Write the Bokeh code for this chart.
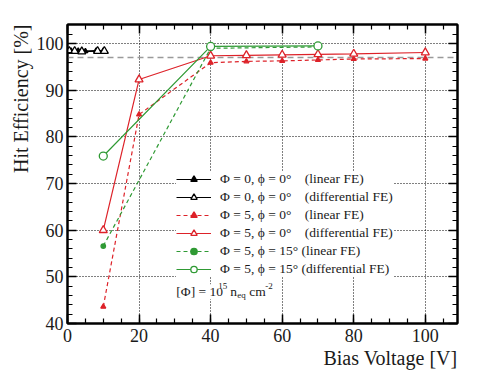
from bokeh.plotting import figure
from bokeh.models import (LinearAxis, SingleIntervalTicker, Span, Legend, LegendItem,
                          Label, Range1d, Title)
from bokeh.embed import file_html
from bokeh.resources import INLINE

# ---------------- data ----------------
phi0_lin_x = [1, 3, 5, 8, 10]
phi0_lin_y = [98.5, 98.5, 98.4, 98.5, 98.5]
phi0_diff_x = [0.5, 2, 4, 8.4, 10.3]
phi0_diff_y = [98.4, 98.4, 98.3, 98.4, 98.4]

red_lin_x = [10, 20, 40, 50, 60, 70, 80, 100]
red_lin_y = [43.6, 84.8, 95.9, 96.2, 96.3, 96.5, 96.7, 96.8]
red_diff_x = [10, 20, 40, 50, 60, 70, 80, 100]
red_diff_y = [60.0, 92.3, 97.4, 97.5, 97.6, 97.7, 97.8, 98.1]

green_lin_x = [10, 40, 70]
green_lin_y = [56.6, 99.0, 99.3]
green_diff_x = [10, 40, 70]
green_diff_y = [75.9, 99.4, 99.5]

reference_eff = 97.0

x_ticks = [0, 20, 40, 60, 80, 100]
y_ticks = [40, 50, 60, 70, 80, 90, 100]
x_min, x_max = 0, 109
y_min, y_max = 40, 104.1

x_title = "Bias Voltage [V]"
y_title = "Hit Efficiency [%]"

labels = [
    "\u03a6 = 0, \u03d5 = 0\u00b0\u2007  (linear FE)",
    "\u03a6 = 0, \u03d5 = 0\u00b0\u2007  (differential FE)",
    "\u03a6 = 5, \u03d5 = 0\u00b0\u2007  (linear FE)",
    "\u03a6 = 5, \u03d5 = 0\u00b0\u2007  (differential FE)",
    "\u03a6 = 5, \u03d5 = 15\u00b0 (linear FE)",
    "\u03a6 = 5, \u03d5 = 15\u00b0 (differential FE)",
]

FONT = "Liberation Serif"
RED = "#dd2229"
GREEN = "#2f9a34"
BLACK = "#000000"
TXT = "#1a1a1a"

p = figure(width=482, height=378, output_backend="svg", toolbar_location=None,
           x_range=Range1d(x_min, x_max), y_range=Range1d(y_min, y_max),
           min_border_left=67, min_border_right=25, min_border_top=24, min_border_bottom=55)
p.outline_line_color = "black"
p.outline_line_width = 2
p.background_fill_color = "white"
p.border_fill_color = "white"

# axes styling
for ax, interval, nminor in ((p.xaxis[0], 20, 4), (p.yaxis[0], 10, 5)):
    ax.ticker = SingleIntervalTicker(interval=interval, num_minor_ticks=nminor)
    ax.major_tick_in = 9
    ax.major_tick_out = 0
    ax.minor_tick_in = 5
    ax.minor_tick_out = 0
    ax.major_tick_line_width = 1.5
    ax.minor_tick_line_width = 1.2
    ax.axis_line_width = 2
    ax.major_label_text_font = FONT
    ax.major_label_text_font_size = "18px"
    ax.major_label_text_color = TXT
p.xaxis[0].major_label_standoff = 5
p.yaxis[0].major_label_standoff = 4

# mirrored axes (ticks only, no labels)
top = LinearAxis(ticker=SingleIntervalTicker(interval=20, num_minor_ticks=4),
                 major_label_overrides={t: "" for t in x_ticks},
                 major_tick_in=9, major_tick_out=0,
                 minor_tick_in=5, minor_tick_out=0, axis_line_width=2,
                 major_tick_line_width=1.5, minor_tick_line_width=1.2,
                 major_label_standoff=0)
right = LinearAxis(ticker=SingleIntervalTicker(interval=10, num_minor_ticks=5),
                   major_label_overrides={t: "" for t in y_ticks},
                   major_tick_in=9, major_tick_out=0,
                   minor_tick_in=5, minor_tick_out=0, axis_line_width=2,
                   major_tick_line_width=1.5, minor_tick_line_width=1.2,
                   major_label_standoff=0)
p.add_layout(top, "above")
p.add_layout(right, "right")

# axis titles, aligned to the end of each axis like the original
p.add_layout(Title(text=x_title, align="right", text_font=FONT, text_font_size="20px",
                   text_font_style="normal", text_color=TXT, offset=0, standoff=0), "below")
p.add_layout(Title(text=y_title, align="right", text_font=FONT, text_font_size="20px",
                   text_font_style="normal", text_color=TXT, offset=0, standoff=4), "left")

# grid
for g in (p.xgrid[0], p.ygrid[0]):
    g.grid_line_color = "black"
    g.grid_line_dash = "1 2"
    g.grid_line_width = 1
p.xgrid[0].ticker = p.xaxis[0].ticker
p.ygrid[0].ticker = p.yaxis[0].ticker

# reference line
p.add_layout(Span(location=reference_eff, dimension="width", line_color="#9a9a9a",
                  line_dash="6 4", line_width=1.5, level="underlay"))

LW = 1.2
items = []

def series(x, y, color, dash, marker, size, filled, label):
    l = p.line(x, y, line_color=color, line_width=LW, line_dash=dash)
    s = p.scatter(x, y, marker=marker, size=size, line_color=color, line_width=1.3,
                  fill_color=color if filled else "white")
    items.append(LegendItem(label=label, renderers=[l, s]))

series(phi0_lin_x, phi0_lin_y, BLACK, "solid", "triangle", 5, True, labels[0])
series(phi0_diff_x, phi0_diff_y, BLACK, "solid", "triangle", 8, False, labels[1])
series(red_lin_x, red_lin_y, RED, "4 3", "triangle", 5, True, labels[2])
series(red_diff_x, red_diff_y, RED, "solid", "triangle", 8, False, labels[3])
series(green_lin_x, green_lin_y, GREEN, "4 3", "circle", 4.5, True, labels[4])
series(green_diff_x, green_diff_y, GREEN, "solid", "circle", 8, False, labels[5])

legend = Legend(items=items, location=(109, 46), background_fill_color="white",
                background_fill_alpha=1.0, border_line_color=None,
                label_text_font=FONT, label_text_font_size="13.5px",
                label_text_color=TXT,
                glyph_width=35, glyph_height=16, label_height=16, spacing=2,
                label_standoff=9, padding=7, margin=0)
p.add_layout(legend, "center")

# fluence unit note: [Φ] = 10^15 n_eq cm^-2
note_x = 30.4
note_y = 46.8
parts = [
    ("[\u03a6] = 10", 0, 0, "13.5px"),
    ("15", 42, 6, "9px"),
    ("n", 54, 0, "13.5px"),
    ("eq", 61, -3, "9px"),
    ("cm", 73, 0, "13.5px"),
    ("-2", 89, 6, "9px"),
]
for txt, dx, dy, fs in parts:
    p.add_layout(Label(x=note_x, y=note_y, x_offset=dx, y_offset=dy, text=txt,
                       text_font=FONT, text_font_size=fs, text_color=TXT,
                       background_fill_color="white",
                       text_baseline="alphabetic", text_align="left", level="overlay"))

open("out.html", "w").write(file_html(p, INLINE))
